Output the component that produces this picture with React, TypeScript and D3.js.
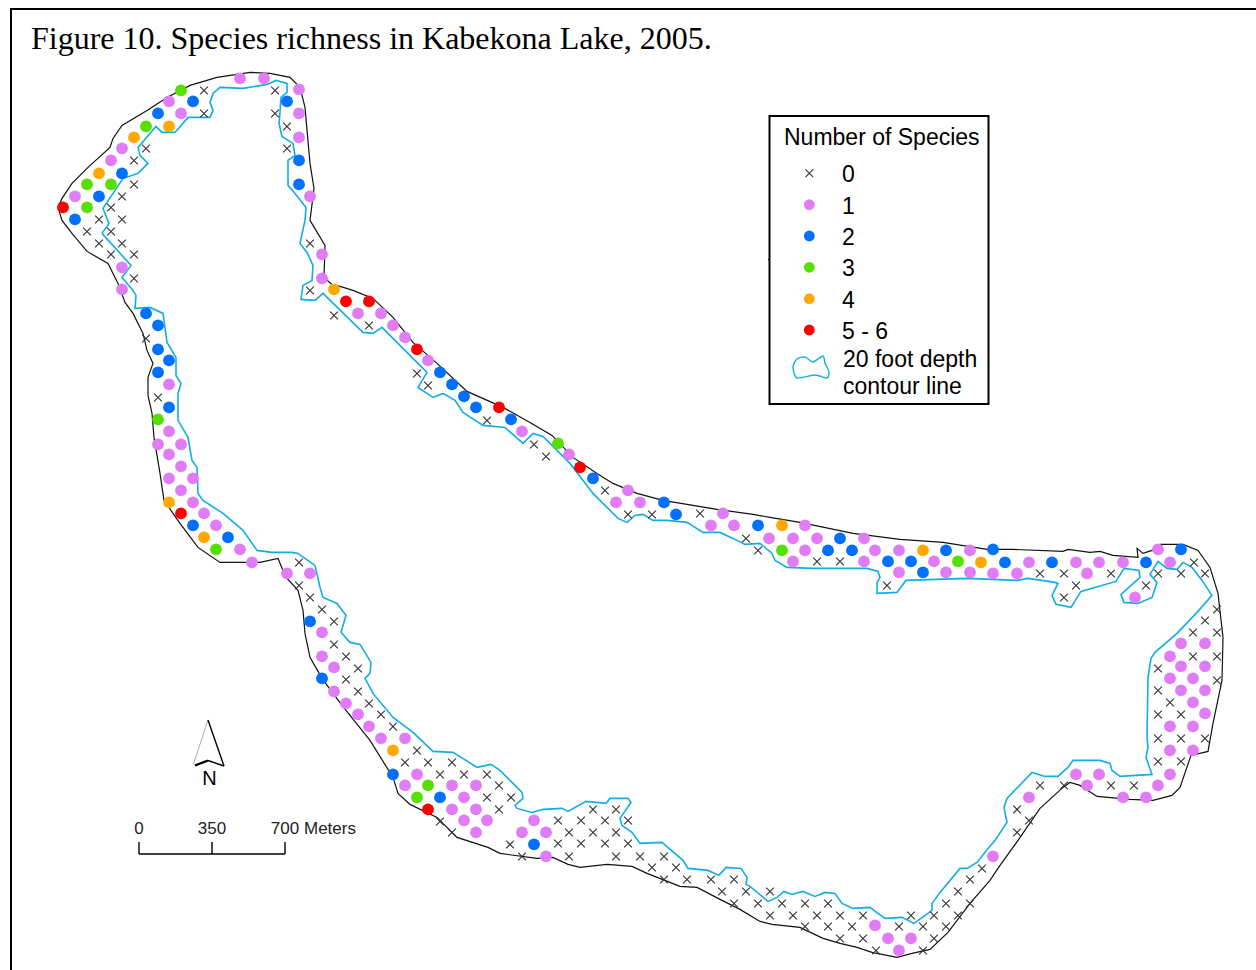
import React, { useEffect, useRef } from 'react';
import * as d3 from 'd3';

type Pt = [number, number];

const title = 'Figure 10. Species richness in Kabekona Lake, 2005.';

// sample stations, one list per richness class
const species0: Pt[] = [
  [204,90],[204,113],[275,90],[275,113],[287,126],[287,148],[146,148],[134,160],[134,184],[122,196],[111,207],[99,219],[122,219],[87,231],[111,231],[99,243],[122,243],[111,254],[134,254],[134,278],[310,243],[310,290],[334,315],
  [146,338],[158,397],[299,562],[299,585],[310,597],[322,609],[334,621],[334,644],[346,656],[358,668],[346,679],[358,691],[369,703],[381,714],[393,726],[417,750],[405,762],[428,762],[452,762],[440,774],[464,774],[487,774],[499,785],[487,797],[511,797],[499,809],[440,821],[452,832],[510,844],
  [593,809],[616,809],[558,820],[581,820],[605,820],[628,820],[569,832],[593,832],[616,832],[558,843],[581,843],[605,843],[628,843],[522,856],[569,856],[616,856],[640,856],[664,856],[652,867],[676,867],[664,879],[687,879],[711,879],
  [734,879],[722,891],[746,891],[770,891],[734,903],[758,903],[782,903],[805,903],[828,903],[770,915],[793,915],[817,915],[840,915],[863,915],[911,915],[934,915],[958,915],[805,926],[828,926],[852,926],[899,926],[923,926],[946,926],[840,938],[863,938],[934,938],[876,950],[923,950],[946,903],[958,891],[970,879],[982,868],[970,903],
  [1040,573],[1064,573],[1111,573],[1158,573],[1181,573],[1205,573],[1194,562],[1076,585],[1146,585],[1064,597],[1217,609],[1205,620],[1193,632],[1217,632],[1193,656],[1217,656],[1158,668],[1217,680],[1158,690],[1170,702],[1158,714],[1181,714],[1158,738],[1181,738],[1205,738],[1158,761],[1181,761],[1040,785],[1064,785],[1111,785],[1134,785],[1017,809],[1029,820],[1017,832],
  [700,513],[746,538],[758,550],[817,561],[840,561],[887,585],[369,325],[417,373],[428,385],[487,420],[534,444],[546,456],[605,490],[628,514],[652,514],
];
const species1: Pt[] = [
  [240,78],[264,78],[299,89],[299,113],[299,137],[169,101],[181,113],[122,148],[111,160],[75,196],[122,267],[122,289],[310,196],[322,254],[322,278],
  [169,384],[169,431],[158,444],[181,444],[169,454],[181,466],[169,478],[193,478],[181,490],[193,502],[204,513],[216,525],[240,549],[252,562],[287,573],[310,573],
  [322,632],[322,656],[334,667],[334,691],[346,703],[358,714],[369,726],[381,738],[405,738],[417,774],[405,785],[452,785],[476,785],[464,797],[452,809],[476,809],[464,820],[487,820],[476,832],[534,820],[522,832],[546,832],[546,856],
  [875,925],[888,938],[911,938],[899,950],[993,856],
  [1029,562],[1076,562],[1099,562],[1123,562],[993,573],[1017,573],[1087,573],[1158,549],[1170,562],[1135,597],[1181,643],[1205,643],[1170,656],[1181,666],[1205,666],[1170,678],[1193,678],[1181,690],[1205,690],[1193,702],[1205,713],[1170,726],[1193,726],[1170,750],[1193,750],[1170,774],[1158,785],[1123,797],[1146,797],[1076,774],[1099,774],[1087,785],[1029,797],
  [723,513],[711,525],[734,525],[805,525],[769,538],[793,538],[817,538],[864,538],[805,550],[875,550],[899,550],[970,550],[793,561],[864,561],[934,561],[899,572],[946,572],[970,572],
  [358,313],[381,313],[393,325],[405,337],[428,360],[522,431],[569,454],[628,490],[616,502],[640,502],
];
const species2: Pt[] = [
  [193,101],[158,113],[122,173],[99,196],[75,219],[287,101],[299,160],[299,184],[146,313],
  [158,325],[158,349],[169,360],[158,372],[169,407],[193,525],[228,537],[310,621],[322,678],[393,774],[440,797],[534,844],
  [993,549],[1005,562],[1052,562],[1146,562],[1181,549],[758,525],[840,538],[828,550],[852,550],[946,550],[888,561],[911,561],[923,572],
  [440,372],[452,384],[464,396],[476,407],[511,419],[593,478],[664,502],[676,514],
];
const species3: Pt[] = [
  [181,90],[146,126],[87,184],[111,184],[87,207],[158,419],[216,549],[428,785],[417,797],[782,550],[958,561],[558,443],
];
const species4: Pt[] = [
  [169,126],[134,137],[99,173],[334,289],[169,502],[204,537],[393,750],[981,562],[782,525],[923,550],
];
const species5to6: Pt[] = [
  [63,207],[346,301],[369,301],[181,513],[428,809],[417,349],[499,407],[580,467],
];

const shoreline: Pt[] = [
  [58,207],[62,198],[72,183],[88,167],[110,147],[113,138],[122,125],[147,110],[167,97],[190,85],[217,77],[250,72],[270,73],[290,77],[300,87],[305,107],[310,163],[314,188],[310,220],[325,245],[324,277],[333,285],[340,286],[353,290],[373,298],[393,317],[413,342],[437,363],[467,391],[503,407],[530,422],[552,435],[573,457],[597,473],[613,483],[637,493],[663,500],[717,509],[753,514],[770,517],[800,522],[853,533],[900,539],[943,542],[987,549],[1013,549],[1063,551],[1068,549],[1090,552],[1100,551],[1113,555],[1138,557],[1137,548],[1143,553],[1152,550],[1160,544],[1183,544],[1198,550],[1210,567],[1218,593],[1223,637],[1222,680],[1213,723],[1208,751],[1191,755],[1180,787],[1172,795],[1153,800],[1130,799],[1097,796],[1080,785],[1070,782],[1063,787],[1040,808],[1018,840],[1000,865],[990,880],[970,903],[948,932],[930,949],[912,953],[897,957],[872,952],[857,947],[840,943],[823,938],[800,927],[772,924],[760,921],[740,909],[720,899],[697,887],[680,886],[647,873],[632,866],[607,864],[580,867],[568,864],[553,857],[537,858],[500,853],[488,847],[457,837],[437,817],[410,804],[398,793],[393,777],[370,740],[342,705],[322,678],[310,657],[305,633],[303,610],[298,590],[287,578],[283,570],[278,558],[260,562],[220,562],[198,547],[180,523],[164,500],[160,473],[154,437],[152,413],[148,395],[148,377],[153,363],[147,350],[143,333],[133,313],[125,302],[118,283],[108,263],[87,251],[72,233],[62,220],[58,207],
];
const contour: Pt[] = [
  [102,233],[109,223],[103,208],[123,178],[138,173],[148,163],[140,155],[138,147],[156,126],[162,132],[175,132],[188,117],[210,117],[213,110],[210,102],[213,93],[220,87],[243,88],[267,84],[276,80],[287,83],[287,92],[281,97],[280,112],[279,123],[282,136],[293,143],[295,155],[288,160],[288,185],[295,193],[306,207],[305,220],[300,243],[307,252],[313,265],[312,280],[303,285],[301,299],[315,300],[323,293],[363,332],[373,333],[382,327],[427,372],[418,387],[433,397],[443,393],[455,400],[463,412],[483,425],[505,427],[523,443],[533,433],[543,436],[570,463],[593,493],[618,518],[627,522],[635,515],[643,514],[653,520],[667,520],[687,522],[703,532],[720,532],[733,538],[745,544],[760,543],[772,553],[775,560],[787,567],[813,568],[867,568],[878,571],[880,577],[877,582],[877,593],[897,592],[906,580],[967,578],[1017,580],[1028,578],[1055,582],[1058,583],[1052,595],[1056,604],[1071,607],[1081,591],[1116,581],[1124,568],[1139,570],[1140,577],[1121,594],[1124,602],[1138,603],[1152,597],[1157,582],[1150,574],[1158,561],[1167,568],[1177,569],[1183,562],[1192,567],[1202,580],[1212,595],[1197,612],[1177,633],[1155,652],[1151,658],[1148,677],[1147,737],[1148,747],[1146,757],[1152,774],[1120,776],[1112,770],[1110,763],[1100,760],[1073,760],[1068,767],[1058,776],[1045,776],[1032,772],[1007,798],[1004,807],[1007,822],[995,840],[988,848],[977,862],[967,868],[960,868],[940,892],[932,903],[932,910],[914,923],[902,917],[885,918],[878,913],[870,907],[853,908],[842,903],[835,893],[825,892],[815,896],[803,891],[792,894],[784,891],[777,897],[768,901],[750,886],[746,884],[747,877],[741,868],[726,867],[719,875],[708,870],[688,868],[683,860],[662,842],[640,843],[632,832],[622,825],[620,818],[631,802],[628,798],[610,798],[606,803],[586,801],[568,811],[562,808],[543,809],[532,812],[517,808],[515,805],[523,798],[522,792],[510,780],[500,770],[491,764],[477,767],[466,760],[453,752],[433,751],[413,732],[393,717],[373,693],[365,678],[370,673],[371,662],[360,644],[350,642],[341,632],[346,615],[337,603],[323,597],[320,587],[315,565],[298,553],[292,552],[272,552],[257,550],[243,530],[223,513],[203,500],[198,493],[197,467],[192,460],[188,437],[178,420],[178,393],[181,383],[176,375],[176,357],[167,342],[163,313],[150,307],[135,308],[136,295],[133,290],[122,277],[131,265],[102,233],
];

const classLabels = ['0', '1', '2', '3', '4', '5 - 6'];
const classColors = ['#333333', '#e07cf6', '#0070ff', '#55e000', '#ffa800', '#ff0000'];
const classPoints = [species0, species1, species2, species3, species4, species5to6];

const legendRows = [173.3, 204.7, 236, 267.3, 298.7, 330];
const legendBlob: Pt[] = [[793,367],[797,359],[805,357],[813,362],[823,356],[825,363],[829,372],[827,378],[815,375],[797,378]];
const scaleTicks = [0, 350, 700];

const App = () => {
  const ref = useRef<SVGSVGElement>(null);

  useEffect(() => {
    const width = 1256;
    const height = 970;
    const svg = d3.select(ref.current);
    svg.selectAll('*').remove();

    const x = d3.scaleLinear().domain([0, width]).range([0, width]);
    const y = d3.scaleLinear().domain([0, height]).range([0.4, height + 0.4]);
    const line = d3.line<Pt>().x((d) => x(d[0])).y((d) => y(d[1]));
    const cross = d3.symbol(d3.symbolTimes, 41);

    // page frame
    svg.append('path').attr('d', `M11,${height}V9H${width}`).attr('fill', 'none').attr('stroke', '#000').attr('stroke-width', 2);

    svg.append('text').attr('x', 31).attr('y', 49)
      .attr('font-family', '"Liberation Serif"').attr('font-size', 32).attr('fill', '#000').text(title);

    svg.append('path').attr('d', line(shoreline)).attr('fill', 'none').attr('stroke', '#111').attr('stroke-width', 1.2);
    svg.append('path').attr('d', line(contour)).attr('fill', 'none').attr('stroke', '#12ade6').attr('stroke-width', 1.6);

    // stations
    svg.append('g').selectAll('path').data(species0).join('path')
      .attr('d', cross)
      .attr('transform', (d) => `translate(${x(d[0])},${y(d[1])})`)
      .attr('fill', 'none').attr('stroke', classColors[0]).attr('stroke-width', 1.1);

    classPoints.slice(1).forEach((pts, i) => {
      svg.append('g').selectAll('circle').data(pts).join('circle')
        .attr('cx', (d) => x(d[0])).attr('cy', (d) => y(d[1])).attr('r', 5.9)
        .attr('fill', classColors[i + 1]);
    });

    // legend
    const legend = svg.append('g').attr('font-family', '"Liberation Sans"').attr('fill', '#000');
    legend.append('rect').attr('x', 769.5).attr('y', 116).attr('width', 219).attr('height', 288)
      .attr('fill', 'none').attr('stroke', '#000').attr('stroke-width', 2);
    legend.append('path').attr('d', 'M768,259.5H770').attr('stroke', '#000').attr('stroke-width', 1);
    legend.append('text').attr('x', 784).attr('y', 145).attr('font-size', 23).text('Number of Species');
    classLabels.forEach((label, i) => {
      const ly = legendRows[i];
      if (i === 0) {
        legend.append('path').attr('d', cross).attr('transform', `translate(809.3,${ly})`)
          .attr('fill', 'none').attr('stroke', classColors[0]).attr('stroke-width', 1.1);
      } else {
        legend.append('circle').attr('cx', 809.3).attr('cy', ly).attr('r', 5.4).attr('fill', classColors[i]);
      }
      legend.append('text').attr('x', 842).attr('y', ly + 9).attr('font-size', 23).text(label);
    });
    legend.append('path')
      .attr('d', d3.line().curve(d3.curveCardinalClosed.tension(0.3))(legendBlob))
      .attr('fill', 'none').attr('stroke', '#12ade6').attr('stroke-width', 1.4);
    legend.append('text').attr('x', 843).attr('y', 367).attr('font-size', 23).text('20 foot depth');
    legend.append('text').attr('x', 843).attr('y', 394).attr('font-size', 23).text('contour line');

    // north arrow
    const north = svg.append('g');
    north.append('path').attr('d', 'M208,720L193.5,764').attr('fill', 'none').attr('stroke', '#999').attr('stroke-width', 0.8);
    north.append('path').attr('d', 'M208,720L224,766').attr('fill', 'none').attr('stroke', '#000').attr('stroke-width', 1.4);
    north.append('path').attr('d', 'M195,765.5L208,760.5').attr('fill', 'none').attr('stroke', '#000').attr('stroke-width', 2.4);
    north.append('path').attr('d', 'M208,760.5L224,766').attr('fill', 'none').attr('stroke', '#000').attr('stroke-width', 1.4);
    north.append('text').attr('x', 209.5).attr('y', 785).attr('text-anchor', 'middle')
      .attr('font-family', '"Liberation Sans"').attr('font-size', 20).text('N');

    // scale bar
    const sx = d3.scaleLinear().domain([0, 700]).range([139, 285]);
    const bar = svg.append('g').attr('stroke', '#000').attr('stroke-width', 1.4);
    bar.append('line').attr('x1', sx(0)).attr('x2', sx(700)).attr('y1', 854).attr('y2', 854);
    scaleTicks.forEach((t) => {
      bar.append('line').attr('x1', sx(t)).attr('x2', sx(t)).attr('y1', 842).attr('y2', 854);
      svg.append('text').attr('x', sx(t)).attr('y', 834).attr('text-anchor', 'middle')
        .attr('font-family', '"Liberation Sans"').attr('font-size', 17).attr('fill', '#222').text(t);
    });
    svg.append('text').attr('x', 304).attr('y', 834)
      .attr('font-family', '"Liberation Sans"').attr('font-size', 17).attr('fill', '#222').text('Meters');
  }, []);

  return <svg ref={ref} width={1256} height={970} style={{ position: 'absolute', left: 0, top: 0, background: '#fff' }} />;
};

export default App;
